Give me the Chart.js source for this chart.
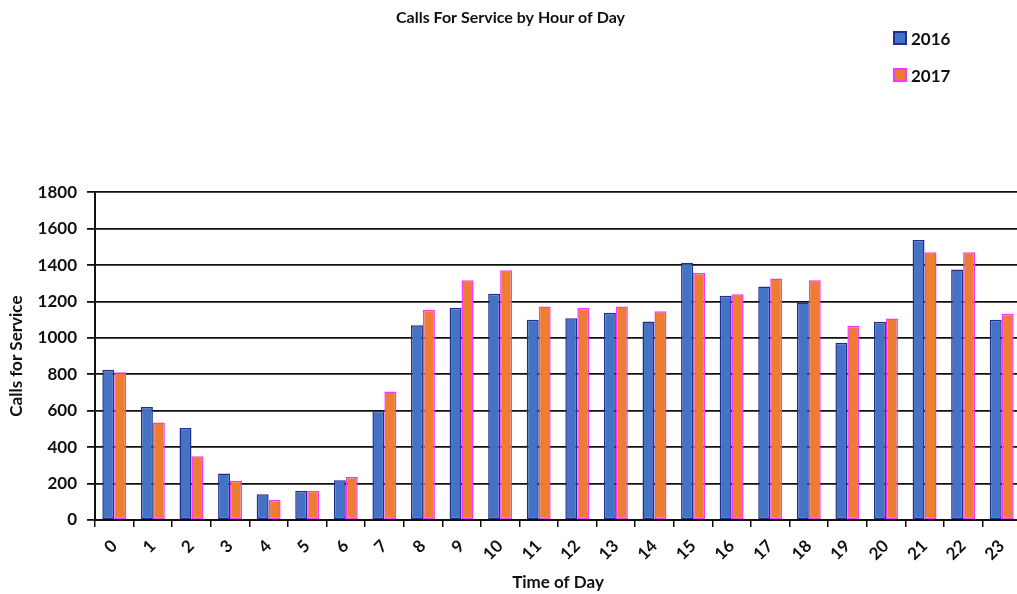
<!DOCTYPE html>
<html lang="en">
<head>
  <meta charset="UTF-8">
  <title>Calls For Service by Hour of Day</title>
  <script src="https://cdn.jsdelivr.net/npm/chart.js"></script>
  <style>
    html, body {margin:0;padding:0;background:#fff;overflow:hidden}
    #wrap {position:relative;width:1040px;height:594px}
    #legend {position:absolute;left:893px;top:28px;font:bold 17px Lato, sans-serif;color:#111}
    .item {display:flex;align-items:center;height:20px;margin-bottom:17px}
    .sw {width:10px;height:10px;margin-right:4px;border:2px solid}
  </style>
</head>
<body>
<div id="wrap">
  <canvas id="chart" width="1040" height="594"></canvas>
  <div id="legend"></div>
</div>
<script>
const hours = ['0','1','2','3','4','5','6','7','8','9','10','11','12','13','14','15','16','17','18','19','20','21','22','23'];
const calls2016 = [825, 620, 505, 255, 141, 160, 218, 600, 1070, 1165, 1242, 1100, 1108, 1138, 1090, 1413, 1232, 1282, 1194, 973, 1088, 1537, 1375, 1100];
const calls2017 = [812, 535, 350, 216, 110, 160, 236, 705, 1155, 1316, 1371, 1172, 1164, 1172, 1146, 1357, 1240, 1326, 1316, 1067, 1106, 1470, 1470, 1133];

const font = 'Lato, sans-serif';

const chart = new Chart(document.getElementById('chart'), {
  type: 'bar',
  data: {
    labels: hours,
    datasets: [
      { label: '2016', data: calls2016, backgroundColor: '#4472c4', borderColor: '#1f2f8f', borderWidth: 1.5, borderSkipped: false },
      { label: '2017', data: calls2017, backgroundColor: '#ed7d31', borderColor: '#ff33ff', borderWidth: 1.5, borderSkipped: false }
    ]
  },
  options: {
    responsive: false,
    animation: false,
    layout: { padding: { right: 19, bottom: 1 } },
    plugins: {
      legend: { display: false },
      tooltip: { enabled: false },
      title: {
        display: true,
        text: 'Calls For Service by Hour of Day',
        color: '#111',
        font: { family: font, size: 16, weight: 'bold' },
        padding: { top: 8, bottom: 165 }
      }
    },
    datasets: { bar: { categoryPercentage: 0.62, barPercentage: 1.0 } },
    scales: {
      x: {
        offset: true,
        grid: { display: true, drawOnChartArea: false, drawTicks: true, tickLength: 7, color: '#111', lineWidth: 1.5, offset: true },
        border: { color: '#111', width: 2 },
        ticks: { color: '#111', font: { family: font, size: 17, weight: 'bold' }, minRotation: 45, maxRotation: 45, padding: 9 },
        title: { display: true, text: 'Time of Day', color: '#111', font: { family: font, size: 17, weight: 'bold' }, padding: { top: 2, bottom: 0 } },
        afterFit: s => { s.height = 73; }
      },
      y: {
        min: 0,
        max: 1800,
        grid: { color: '#111', lineWidth: 1.8, tickLength: 8 },
        border: { color: '#111', width: 2 },
        ticks: { stepSize: 200, color: '#111', font: { family: font, size: 17, weight: 'bold' }, padding: 10, callback: v => String(v) },
        title: { display: true, text: 'Calls for Service', color: '#111', font: { family: font, size: 17, weight: 'bold' }, padding: { top: 6, bottom: 0 } },
        afterFit: s => { s.width = 95; }
      }
    }
  }
});

// legend as html
document.getElementById('legend').innerHTML = chart.data.datasets.map(d =>
  `<div class="item"><span class="sw" style="background:${d.backgroundColor};border-color:${d.borderColor}"></span>${d.label}</div>`
).join('');
</script>
</body>
</html>
